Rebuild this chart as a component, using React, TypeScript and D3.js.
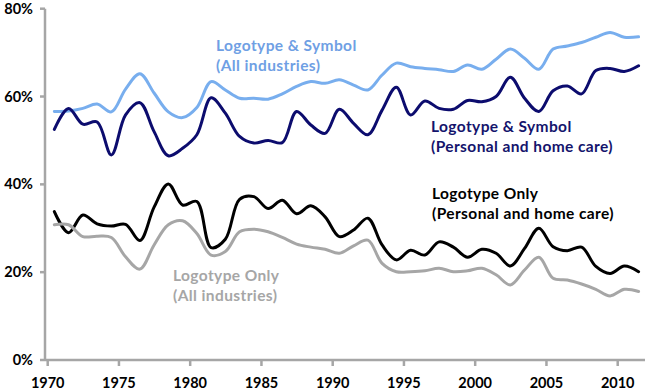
import * as d3 from "d3";

const years = d3.range(1970, 2012);

const lsAll = [
  56.6, 56.7, 57.3, 58.3, 56.5, 61.7, 65.2, 60.8, 56.5, 55.2, 57.5, 63.4, 61.5, 59.6,
  59.6, 59.4, 60.6, 62.3, 63.4, 63.0, 63.8, 62.6, 61.5, 64.9, 67.6, 66.8, 66.4, 66.1,
  65.7, 67.2, 66.2, 68.5, 70.8, 68.7, 66.2, 70.8, 71.5, 72.3, 73.5, 74.6, 73.5, 73.6,
];
const lsCare = [
  52.5, 57.3, 53.7, 54.2, 46.7, 55.8, 58.6, 52.0, 46.5, 48.2, 51.3, 59.7, 56.2, 50.9,
  49.4, 50.0, 49.5, 56.6, 53.5, 51.6, 57.1, 53.9, 51.3, 56.9, 62.1, 55.8, 59.0, 57.3,
  57.1, 59.1, 58.8, 60.0, 64.4, 59.6, 56.6, 61.3, 62.4, 60.6, 65.9, 66.4, 65.7, 67.0,
];
const loCare = [
  33.8, 29.0, 33.0, 31.0, 30.5, 30.9, 27.2, 34.8, 40.1, 35.3, 36.1, 25.6, 27.5, 36.6,
  37.2, 34.5, 36.4, 33.3, 35.1, 32.6, 28.1, 29.6, 32.3, 26.2, 22.8, 25.0, 23.9, 26.9,
  25.7, 23.4, 25.2, 24.3, 21.4, 25.4, 30.0, 25.8, 24.9, 25.7, 21.3, 19.7, 21.4, 20.1,
];
const loAll = [
  30.8, 30.8, 28.1, 28.2, 27.9, 23.5, 20.7, 26.2, 30.8, 31.7, 28.8, 23.9, 24.7, 29.2,
  29.8, 29.2, 27.9, 26.4, 25.7, 25.2, 24.3, 26.0, 27.3, 22.0, 20.1, 20.1, 20.3, 20.9,
  20.1, 20.3, 20.9, 19.4, 17.1, 20.5, 23.4, 18.6, 18.2, 17.3, 16.1, 14.6, 16.1, 15.6,
];

const yTicks = [0, 20, 40, 60, 80];
const xTicks = [1970, 1975, 1980, 1985, 1990, 1995, 2000, 2005, 2010];

const series = [
  { name: "lsAll", values: lsAll, color: "#78aeee", lines: ["Logotype & Symbol", "(All industries)"], labelColor: "#6f9fe4", lx: 216, ly: 51 },
  { name: "lsCare", values: lsCare, color: "#0c0c6e", lines: ["Logotype & Symbol", "(Personal and home care)"], labelColor: "#14146c", lx: 431, ly: 132 },
  { name: "loCare", values: loCare, color: "#000000", lines: ["Logotype Only", "(Personal and home care)"], labelColor: "#000000", lx: 432, ly: 199 },
  { name: "loAll", values: loAll, color: "#a6a6a6", lines: ["Logotype Only", "(All industries)"], labelColor: "#a6a6a6", lx: 173, ly: 281 },
];

export default function App() {
  const width = 652;
  const height = 392;
  const axisX = 45;
  const axisY = 360;
  const axisRight = 645;

  const x = d3
    .scaleTime()
    .domain([new Date(1970, 0, 1), new Date(2010, 0, 1)])
    .range([47.7, 617.7]);
  const y = d3.scaleLinear().domain([0, 80]).range([360, 8.7]);

  const line = d3
    .line<number>()
    .x((_, i) => x(new Date(years[i], 5, 20)))
    .y((d) => y(d))
    .curve(d3.curveCatmullRom.alpha(0.5));

  const font = "Lato, 'Open Sans', sans-serif";

  return (
    <div style={{ position: "absolute", left: 0, top: 0 }}>
      <svg width={width} height={height} viewBox={`0 0 ${width} ${height}`} style={{ display: "block" }}>
        <rect width={width} height={height} fill="#ffffff" />
        {/* axes */}
        <g stroke="#a6a6a6" strokeWidth={2.5} fill="none">
          <line x1={axisX} x2={axisX} y1={y(80)} y2={axisY} />
          <line x1={axisX} x2={axisRight} y1={axisY} y2={axisY} />
          {yTicks.map((t) => (
            <line key={`yt-${t}`} x1={axisX - 5} x2={axisX} y1={y(t)} y2={y(t)} />
          ))}
          {xTicks.map((t) => (
            <line key={`xt-${t}`} x1={x(new Date(t, 0, 1))} x2={x(new Date(t, 0, 1))} y1={axisY} y2={axisY + 6} />
          ))}
        </g>
        <g fontFamily={font} fontWeight={700} fontSize={14.5} fill="#000">
          {yTicks.map((t) => (
            <text key={`yl-${t}`} x={33} y={y(t) + 5} textAnchor="end">
              {t}%
            </text>
          ))}
          {xTicks.map((t) => (
            <text key={`xl-${t}`} x={x(new Date(t, 0, 1))} y={388} textAnchor="middle">
              {t}
            </text>
          ))}
        </g>
        {/* lines */}
        {series.map((s) => (
          <path
            key={s.name}
            d={line(s.values) ?? ""}
            fill="none"
            stroke={s.color}
            strokeWidth={3}
            strokeLinejoin="round"
            strokeLinecap="round"
          />
        ))}
        {/* labels */}
        {series.map((s) => (
          <text
            key={`lab-${s.name}`}
            fontFamily={font}
            fontWeight={700}
            fontSize={15.5}
            letterSpacing={0.4}
            fill={s.labelColor}
          >
            {s.lines.map((l, i) => (
              <tspan key={i} x={s.lx} y={s.ly + i * 20}>
                {l}
              </tspan>
            ))}
          </text>
        ))}
      </svg>
    </div>
  );
}
